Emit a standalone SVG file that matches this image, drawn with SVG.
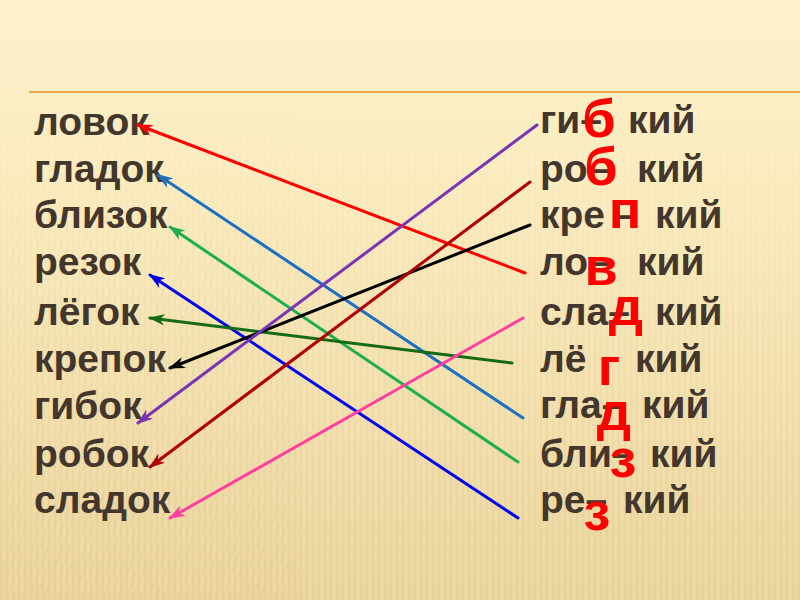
<svg xmlns="http://www.w3.org/2000/svg" width="800" height="600" viewBox="0 0 800 600">
<defs>
<linearGradient id="bg" x1="0" y1="0" x2="0" y2="1">
<stop offset="0" stop-color="#fdf1cc"/>
<stop offset="0.3" stop-color="#fbecc0"/>
<stop offset="1" stop-color="#ecd6a0"/>
</linearGradient>
<pattern id="stripes" width="6" height="600" patternUnits="userSpaceOnUse">
<rect x="0" y="0" width="2" height="600" fill="#c8a860" opacity="0.12"/>
</pattern>
<pattern id="diag" width="7" height="7" patternUnits="userSpaceOnUse" patternTransform="rotate(20)">
<rect x="0" y="0" width="2" height="7" fill="#d9bd7a" opacity="0.25"/>
</pattern>
<linearGradient id="fadeTop" x1="0" y1="0" x2="0" y2="1">
<stop offset="0" stop-color="#fff" stop-opacity="0"/>
<stop offset="1" stop-color="#fff" stop-opacity="1"/>
</linearGradient>
<mask id="m1"><rect x="0" y="80" width="800" height="520" fill="url(#fadeTop)"/></mask>
<marker id="ah" viewBox="0 0 20 14" refX="18" refY="7" markerWidth="5.5" markerHeight="4" orient="auto" markerUnits="strokeWidth">
<path d="M20,7 L0,0 L6,7 L0,14 Z" fill="context-stroke"/>
</marker>
<style>
.w{font-family:"Liberation Sans",Arial,sans-serif;font-weight:bold;font-size:39px;fill:#43362c}
.r{font-family:"Liberation Sans",Arial,sans-serif;font-weight:bold;font-size:54px;fill:#ff0000;text-anchor:middle}
.c{fill:none;stroke-width:3;stroke-linecap:round}
</style>
</defs>
<rect width="800" height="600" fill="url(#bg)"/>
<rect y="80" width="800" height="520" fill="url(#stripes)" mask="url(#m1)"/>
<rect x="0" y="80" width="300" height="520" fill="url(#diag)" opacity="0.6" mask="url(#m1)"/>
<line x1="29" y1="92" x2="800" y2="92" stroke="#e6a64a" stroke-width="2"/>

<g id="left">
<g id="n-lovok"><text class="w" x="34" y="135">ловок</text></g>
<g id="n-gladok"><text class="w" x="34" y="182">гладок</text></g>
<g id="n-blizok"><text class="w" x="34" y="228">близок</text></g>
<g id="n-rezok"><text class="w" x="34" y="275">резок</text></g>
<g id="n-legok"><text class="w" x="34" y="325">лёгок</text></g>
<g id="n-krepok"><text class="w" x="34" y="372">крепок</text></g>
<g id="n-gibok"><text class="w" x="34" y="419">гибок</text></g>
<g id="n-robok"><text class="w" x="34" y="467">робок</text></g>
<g id="n-sladok"><text class="w" x="34" y="513">сладок</text></g>
</g>

<g id="right">
<g id="n-gibkiy"><text class="w" x="540" y="133">ги–<tspan x="628">кий</tspan></text></g>
<g id="n-robkiy"><text class="w" x="540" y="182">ро–<tspan x="637">кий</tspan></text></g>
<g id="n-krepkiy"><text class="w" x="540" y="228">кре –<tspan x="655">кий</tspan></text></g>
<g id="n-lovkiy"><text class="w" x="540" y="275">ло–<tspan x="637">кий</tspan></text></g>
<g id="n-sladkiy"><text class="w" x="540" y="325">сла–<tspan x="655">кий</tspan></text></g>
<g id="n-legkiy"><text class="w" x="540" y="372">лё<tspan x="635">кий</tspan></text></g>
<g id="n-gladkiy"><text class="w" x="540" y="418">гла–<tspan x="642">кий</tspan></text></g>
<g id="n-blizkiy"><text class="w" x="540" y="467">бли–<tspan x="650">кий</tspan></text></g>
<g id="n-rezkiy"><text class="w" x="540" y="513">ре–<tspan x="623">кий</tspan></text></g>
</g>

<g id="connectors">
<line class="c" stroke="#ff0000" x1="525" y1="273" x2="138" y2="125" marker-end="url(#ah)"/>
<line class="c" stroke="#1f6fc0" x1="523" y1="418" x2="158" y2="175" marker-end="url(#ah)"/>
<line class="c" stroke="#1fae4f" x1="518" y1="462" x2="170" y2="227" marker-end="url(#ah)"/>
<line class="c" stroke="#0000ee" x1="518" y1="518" x2="150" y2="275" marker-end="url(#ah)"/>
<line class="c" stroke="#146b14" x1="512" y1="363" x2="150" y2="318" marker-end="url(#ah)"/>
<line class="c" stroke="#000000" x1="530" y1="225" x2="170" y2="368" marker-end="url(#ah)"/>
<line class="c" stroke="#7a35b5" x1="537" y1="125" x2="138" y2="423" marker-end="url(#ah)"/>
<line class="c" stroke="#b00000" x1="530" y1="182" x2="150" y2="467" marker-end="url(#ah)"/>
<line class="c" stroke="#ff3fa0" x1="523" y1="318" x2="170" y2="518" marker-end="url(#ah)"/>
</g>

<g id="letters">
<text class="r" x="599" y="137">б</text>
<text class="r" x="601" y="185">б</text>
<text class="r" x="625" y="228">п</text>
<text class="r" x="601" y="285">в</text>
<text class="r" x="626" y="325">д</text>
<text class="r" x="609" y="385">г</text>
<text class="r" x="614" y="430">д</text>
<text class="r" x="623" y="477">з</text>
<text class="r" x="597" y="530">з</text>
</g>
</svg>
